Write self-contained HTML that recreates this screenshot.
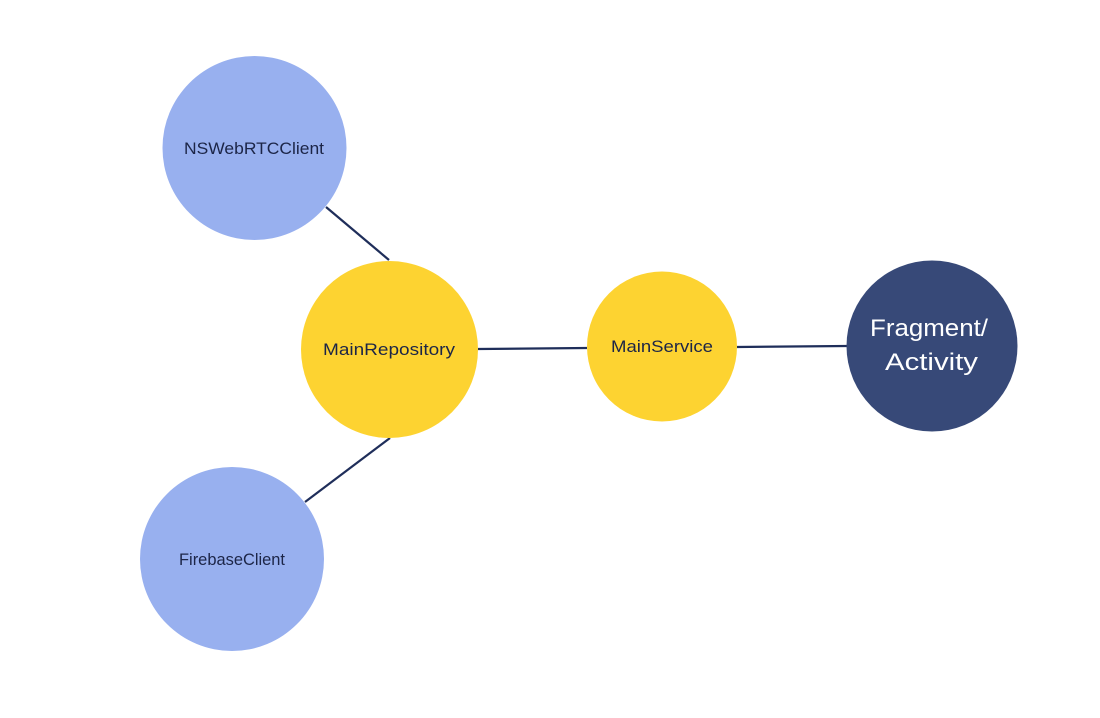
<!DOCTYPE html>
<html>
<head>
<meta charset="utf-8">
<style>
html,body{margin:0;padding:0;background:#ffffff;}
svg{display:block;}
text{font-family:"Liberation Sans","DejaVu Sans",sans-serif;}
</style>
</head>
<body>
<svg width="1100" height="718" viewBox="0 0 1100 718" xmlns="http://www.w3.org/2000/svg">
<rect width="1100" height="718" fill="#ffffff"/>
<g stroke="#1f2e5a" stroke-width="2.2" stroke-linecap="butt">
<line x1="326" y1="207" x2="389" y2="260"/>
<line x1="390" y1="438" x2="305" y2="502"/>
<line x1="478" y1="349" x2="587" y2="348"/>
<line x1="737" y1="347" x2="847" y2="346"/>
</g>
<circle cx="254.5" cy="148" r="92" fill="#98b0ef"/>
<circle cx="232" cy="559" r="92" fill="#98b0ef"/>
<circle cx="389.5" cy="349.5" r="88.5" fill="#fdd331"/>
<circle cx="662" cy="346.5" r="75" fill="#fdd331"/>
<circle cx="932" cy="346" r="85.5" fill="#374978"/>
<g fill="#1c2547" font-size="17">
<text x="184" y="154" textLength="140" lengthAdjust="spacingAndGlyphs">NSWebRTCClient</text>
<text x="323" y="355" textLength="132" lengthAdjust="spacingAndGlyphs">MainRepository</text>
<text x="611" y="352" textLength="102" lengthAdjust="spacingAndGlyphs">MainService</text>
<text x="179" y="565" textLength="106" lengthAdjust="spacingAndGlyphs">FirebaseClient</text>
</g>
<g fill="#ffffff" font-size="24">
<text x="870" y="336" textLength="118" lengthAdjust="spacingAndGlyphs">Fragment/</text>
<text x="885" y="370" textLength="93" lengthAdjust="spacingAndGlyphs">Activity</text>
</g>
</svg>
</body>
</html>
